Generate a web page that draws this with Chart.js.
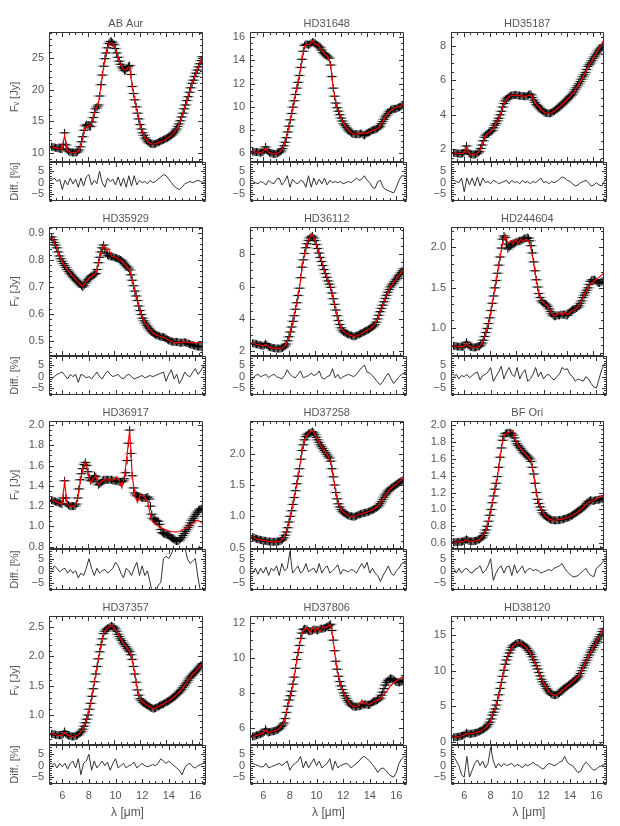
<!DOCTYPE html>
<html><head><meta charset="utf-8">
<script src="https://cdn.jsdelivr.net/npm/chart.js@4.4.1/dist/chart.umd.min.js"></script>
<style>
html,body{margin:0;padding:0;background:#fff;}
#wrap{position:relative;width:620px;height:826px;overflow:hidden;background:#fff;}
canvas{position:absolute;}
</style></head><body><div id="wrap"></div>
<script>
// ---------- DATA ----------
// wavelength grid of the measured spectra (micron)
const WAVE_F = [5.2,5.3,5.4,5.5,5.6,5.7,5.8,5.9,
 6.0,6.1,6.2,6.3,6.4,6.5,6.6,6.7,6.8,6.9,
 7.0,7.1,7.2,7.3,7.4,7.5,7.6,7.7,7.8,7.9,
 8.0,8.1,8.2,8.3,8.4,8.5,8.6,8.7,8.8,8.9,
 9.0,9.1,9.2,9.3,9.4,9.5,9.6,9.7,9.8,9.9,
 10.0,10.1,10.2,10.3,10.4,10.5,10.6,10.7,10.8,10.9,
 11.0,11.1,11.2,11.3,11.4,11.5,11.6,11.7,11.8,11.9,
 12.0,12.1,12.2,12.3,12.4,12.5,12.6,12.7,12.8,12.9,
 13.0,13.1,13.2,13.3,13.4,13.5,13.6,13.7,13.8,13.9,
 14.0,14.1,14.2,14.3,14.4,14.5,14.6,14.7,14.8,14.9,
 15.0,15.1,15.2,15.3,15.4,15.5,15.6,15.7,15.8,15.9,
 16.0,16.1,16.2,16.3,16.4,16.5,16.6,16.7,16.8];
// wavelength grid of the model curves and residuals (micron)
const WAVE = [5.2,5.4,5.6,5.8,6.0,6.2,6.4,6.6,6.8,7.0,7.2,7.4,7.6,7.8,8.0,8.2,8.4,8.6,8.8,9.0,9.2,9.4,9.6,9.8,10.0,10.2,10.4,10.6,10.8,11.0,11.2,11.4,11.6,11.8,12.0,12.2,12.4,12.6,12.8,13.0,13.2,13.4,13.6,13.8,14.0,14.2,14.4,14.6,14.8,15.0,15.2,15.4,15.6,15.8,16.0,16.2,16.4,16.6,16.8];
const X_TICKS = [6,8,10,12,14,16];
const DIFF_TICKS = [-5,0,5];
const NAMES = ['AB Aur','HD31648','HD35187','HD35929','HD36112','HD244604','HD36917','HD37258','BF Ori','HD37357','HD37806','HD38120'];

const FLUX_ABAUR = [11.0,10.95,10.9,10.85,10.8,10.75,10.7,10.65,
 10.6,11.4,13.2,11.3,10.5,10.3,10.2,10.15,10.1,10.1,
 10.1,10.1,10.2,10.5,11.0,11.8,12.6,13.6,14.3,14.5,
 14.4,14.2,14.2,14.9,15.6,16.4,17.0,17.3,17.6,19.0,
 20.8,22.3,23.7,24.9,25.8,26.6,27.3,27.6,27.6,27.4,
 27.1,26.5,25.8,25.1,24.5,24.0,23.6,23.3,23.0,23.1,
 23.4,23.7,23.8,22.4,20.5,19.4,18.4,17.3,16.3,15.4,
 14.5,13.8,13.2,12.8,12.4,12.1,11.8,11.6,11.5,11.45,
 11.4,11.45,11.5,11.6,11.7,11.8,11.9,12.0,12.1,12.2,
 12.3,12.4,12.5,12.65,12.8,13.0,13.2,13.5,13.8,14.2,
 14.6,15.1,15.7,16.3,17.0,17.6,18.3,18.9,19.6,20.3,
 21.0,21.5,22.1,22.6,23.1,23.6,24.1,24.6,25.2];
const MODEL_ABAUR = [11.0,10.9,10.8,10.7,10.6,12.8,10.5,10.2,10.1,10.1,10.2,10.9,12.5,14.1,14.3,14.3,15.5,17.0,17.8,20.7,23.6,25.8,27.2,27.4,27.0,25.9,24.5,23.5,23.1,23.3,23.6,20.6,18.3,16.3,14.6,13.2,12.4,11.8,11.5,11.4,11.5,11.7,11.8,12.0,12.2,12.5,12.8,13.2,13.8,14.6,15.7,17.0,18.3,19.6,21.0,22.1,23.1,24.1,25.2];
const DIFF_ABAUR = [1,2,0.5,1.5,-3,1,-1,2,-0.5,1.5,-2,2,-1.5,2.5,3.5,-1,1,-0.5,5,0,-2,2,0.5,1.5,-1,2.5,-1.5,2,-2,3,-1.5,3,-1,1,0,0.5,-0.5,1,0,0.5,1.5,2.5,3.5,3,1.5,0,-1.5,-2.5,-3,-2,-0.5,0,0.5,0,0.5,1,0.5,0,0.5];

const FLUX_HD31648 = [6.1,6.08,6.05,6.05,6.05,6.02,6.0,6.02,
 6.05,6.2,6.5,6.25,6.1,6.0,5.95,5.92,5.9,5.9,
 5.9,5.95,6.0,6.05,6.15,6.35,6.6,6.9,7.3,7.8,
 8.3,8.85,9.4,9.95,10.5,11.05,11.6,12.1,12.7,13.4,
 14.1,14.8,15.3,15.4,15.4,15.35,15.4,15.5,15.6,15.55,
 15.5,15.4,15.3,15.2,15.1,14.9,14.7,14.6,14.5,14.4,
 14.3,14.2,13.6,12.6,11.6,10.9,10.3,9.9,9.6,9.3,
 9.0,8.75,8.5,8.35,8.2,8.05,7.9,7.8,7.7,7.65,
 7.6,7.6,7.6,7.6,7.6,7.65,7.65,7.55,7.5,7.6,
 7.7,7.75,7.8,7.9,7.95,7.98,8.0,8.05,8.1,8.2,
 8.3,8.5,8.7,8.9,9.1,9.25,9.4,9.55,9.7,9.75,
 9.8,9.8,9.8,9.85,9.9,9.95,10.0,10.1,10.2];
const MODEL_HD31648 = [6.1,6.05,6.05,6.0,6.05,6.4,6.05,5.95,5.9,5.9,6.0,6.15,6.6,7.3,8.3,9.4,10.5,11.6,12.7,14.1,15.3,15.4,15.4,15.7,15.4,15.4,15.1,14.7,14.5,14.3,13.6,11.6,10.3,9.6,9.0,8.5,8.2,7.9,7.7,7.6,7.6,7.65,7.7,7.7,7.7,7.8,7.9,8.0,8.1,8.3,8.7,9.1,9.4,9.6,9.8,9.9,10.0,10.0,10.2];
const DIFF_HD31648 = [0.5,0,-0.5,0.5,0,-1,1,0,-0.5,1.5,2,-1,0.5,3,-2,1.5,0,-0.5,1,0.5,-2,3,-2,2,-1,1.5,-0.5,2,-1,1,0,0.5,0,0.5,-0.5,0,0.5,0,1,2,1,1.5,3,1,0,-2,-2.5,0.5,1,-2,-3,-3.5,-4,-4.5,-2,1,3,3,2.5];

const FLUX_HD35187 = [1.8,1.79,1.78,1.76,1.75,1.75,1.75,1.77,
 1.8,1.95,2.2,1.9,1.75,1.72,1.7,1.7,1.7,1.72,
 1.75,1.8,1.88,2.05,2.25,2.5,2.7,2.82,2.9,2.95,
 3.0,3.05,3.1,3.25,3.4,3.5,3.65,3.8,4.0,4.2,
 4.45,4.65,4.8,4.92,5.0,5.06,5.1,5.12,5.13,5.14,
 5.15,5.13,5.12,5.11,5.1,5.09,5.08,5.07,5.07,5.1,
 5.15,5.2,5.15,5.0,4.85,4.72,4.6,4.52,4.45,4.36,
 4.28,4.21,4.15,4.12,4.1,4.09,4.08,4.1,4.12,4.17,
 4.22,4.28,4.35,4.41,4.47,4.53,4.6,4.67,4.74,4.82,
 4.9,4.97,5.05,5.12,5.2,5.32,5.45,5.56,5.68,5.8,
 5.92,6.06,6.2,6.32,6.45,6.62,6.8,6.9,7.0,7.12,
 7.25,7.36,7.47,7.58,7.7,7.8,7.87,7.96,8.05];
const MODEL_HD35187 = [1.8,1.78,1.75,1.75,1.8,2.1,1.75,1.7,1.7,1.75,1.88,2.25,2.7,2.9,3.0,3.1,3.4,3.65,4.0,4.45,4.8,5.0,5.1,5.13,5.15,5.12,5.1,5.08,5.07,5.12,5.15,4.85,4.6,4.45,4.28,4.15,4.1,4.08,4.12,4.22,4.35,4.47,4.6,4.74,4.9,5.05,5.2,5.43,5.67,5.92,6.18,6.45,6.75,7.0,7.25,7.5,7.75,8.0,8.3];
const DIFF_HD35187 = [1,0.5,0,2,-4,2,-1,2,-1.5,2.5,-1.5,2,0,0.5,-0.5,1,0.5,-0.5,0,0.5,1,-0.5,1,0,0.5,-0.5,1,0,0.5,-0.5,0.5,0,1,2,0,0.5,-0.5,0.5,0,0.5,1.5,2.5,2,1,0.5,-0.5,-1.5,-1,0,0.5,1,0,-1.5,-1,0,-1,-1.5,0.5,2];

const FLUX_HD35929 = [0.885,0.875,0.865,0.855,0.845,0.83,0.815,0.805,
 0.795,0.787,0.78,0.772,0.765,0.758,0.752,0.746,0.74,0.735,
 0.73,0.725,0.72,0.715,0.71,0.705,0.70,0.706,0.715,0.722,
 0.728,0.733,0.738,0.742,0.745,0.747,0.75,0.765,0.79,0.81,
 0.83,0.845,0.855,0.84,0.825,0.818,0.815,0.814,0.813,0.812,
 0.81,0.808,0.807,0.805,0.803,0.8,0.798,0.792,0.785,0.78,
 0.775,0.77,0.763,0.745,0.725,0.705,0.685,0.667,0.65,0.63,
 0.613,0.598,0.585,0.575,0.567,0.559,0.552,0.546,0.54,0.535,
 0.53,0.526,0.523,0.521,0.52,0.518,0.516,0.515,0.515,0.513,
 0.51,0.506,0.503,0.501,0.499,0.498,0.497,0.497,0.497,0.496,
 0.495,0.494,0.494,0.495,0.496,0.495,0.493,0.491,0.489,0.487,
 0.486,0.484,0.483,0.481,0.48,0.48,0.479,0.479,0.479];
const MODEL_HD35929 = [0.885,0.865,0.845,0.815,0.795,0.78,0.765,0.752,0.74,0.73,0.72,0.71,0.703,0.715,0.728,0.738,0.745,0.75,0.79,0.83,0.855,0.835,0.84,0.815,0.812,0.807,0.803,0.798,0.785,0.775,0.763,0.725,0.685,0.65,0.613,0.585,0.567,0.552,0.54,0.53,0.523,0.52,0.516,0.515,0.51,0.503,0.499,0.495,0.493,0.497,0.494,0.497,0.497,0.494,0.495,0.494,0.495,0.495,0.496];
const DIFF_HD35929 = [-1,0,1,1.5,2,0.5,-1,1,0,1,-2.5,1,0.5,-0.5,0,-1,0.5,2,0,-1,1,2.5,1,0,0.5,1,-0.5,-1,0.5,1,0,-1,-0.5,0,0.5,-0.5,0,0.5,0,0.5,1,1.5,2,-2,1,3,-1,1,-3,-1,2,0.5,0,2,3.5,1,2.5,4.5,3];

const FLUX_HD36112 = [2.5,2.48,2.46,2.44,2.42,2.4,2.38,2.36,
 2.33,2.38,2.47,2.38,2.3,2.27,2.24,2.22,2.2,2.19,
 2.18,2.17,2.17,2.17,2.18,2.21,2.26,2.33,2.45,2.65,
 2.9,3.2,3.5,3.85,4.2,4.6,5.0,5.45,5.9,6.55,
 7.2,7.65,8.05,8.4,8.65,8.85,9.0,9.08,9.12,9.0,
 8.85,8.6,8.35,8.07,7.8,7.55,7.3,7.05,6.8,6.57,
 6.35,6.15,5.95,5.6,5.25,4.9,4.55,4.2,3.9,3.65,
 3.45,3.3,3.2,3.15,3.1,3.06,3.03,3.0,2.97,2.94,
 2.92,2.94,2.97,3.01,3.05,3.09,3.13,3.18,3.22,3.26,
 3.3,3.34,3.38,3.44,3.5,3.57,3.65,3.8,4.0,4.22,
 4.45,4.65,4.85,5.06,5.27,5.46,5.65,5.82,5.98,6.1,
 6.2,6.31,6.42,6.53,6.65,6.75,6.85,6.97,7.1];
const MODEL_HD36112 = [2.5,2.46,2.42,2.38,2.33,2.42,2.3,2.24,2.2,2.18,2.17,2.18,2.26,2.45,2.9,3.5,4.2,5.0,5.9,7.2,8.05,8.7,9.05,9.2,8.85,8.35,7.8,7.3,6.8,6.35,5.95,5.25,4.55,3.9,3.45,3.2,3.1,3.03,2.97,2.92,2.95,3.02,3.1,3.2,3.3,3.4,3.52,3.68,4.0,4.45,4.85,5.27,5.65,5.98,6.2,6.42,6.65,6.85,7.1];
const DIFF_HD36112 = [-1,0.5,1,0,0.5,1,-0.5,0.5,1,0,-0.5,-1,0.5,3,1,0,-0.5,1,2.5,-0.5,0,0.5,1.5,0.5,1,2.5,-0.5,-1,0,0.5,3.5,-0.5,1,-1,0,0.5,1,0.5,0,1,2.5,4,5,2,1.5,0.5,-1,-2.5,-3.5,-2,0,1.5,-1,-3,-1.5,0,1,1.5,1.5];

const FLUX_HD244604 = [0.785,0.783,0.78,0.777,0.775,0.775,0.775,0.775,
 0.775,0.8,0.83,0.8,0.78,0.775,0.77,0.767,0.765,0.767,
 0.77,0.775,0.78,0.795,0.82,0.855,0.9,0.95,1.0,1.06,
 1.13,1.22,1.31,1.4,1.5,1.59,1.68,1.78,1.88,1.99,
 2.1,2.14,2.12,2.04,1.98,2.0,2.02,2.04,2.05,2.05,
 2.06,2.07,2.07,2.08,2.08,2.09,2.1,2.11,2.11,2.12,
 2.11,2.08,2.02,1.93,1.82,1.71,1.6,1.51,1.43,1.38,
 1.34,1.32,1.31,1.3,1.29,1.27,1.24,1.21,1.18,1.16,
 1.15,1.15,1.16,1.16,1.16,1.17,1.17,1.17,1.17,1.16,
 1.16,1.18,1.2,1.22,1.23,1.235,1.24,1.25,1.26,1.28,
 1.31,1.34,1.38,1.41,1.44,1.47,1.5,1.54,1.58,1.6,
 1.6,1.6,1.59,1.57,1.56,1.56,1.57,1.58,1.6];
const MODEL_HD244604 = [0.785,0.78,0.775,0.775,0.775,0.82,0.78,0.77,0.765,0.77,0.78,0.82,0.9,1.0,1.13,1.31,1.5,1.68,1.88,2.05,2.15,2.05,2.08,2.04,2.09,2.05,2.1,2.07,2.1,2.08,1.98,1.8,1.6,1.43,1.34,1.31,1.29,1.24,1.18,1.15,1.17,1.19,1.17,1.2,1.17,1.2,1.22,1.24,1.26,1.31,1.38,1.44,1.5,1.55,1.57,1.6,1.62,1.65,1.68];
const DIFF_HD244604 = [0,1,-1,0.5,0,1,-0.5,0.5,1.5,2,-1.5,0.5,1,2,4,-2,0,2,4.5,-1,2,4,1,0,4,-1,1.5,3,-2,-1,1,4,0,2,-1,0.5,1,-0.5,-1.5,0,1,4,3,3.5,1,0,-2,-1,-1.5,-2,0,-1,-3,-4.5,-5,-1,3,5.5,6];

const FLUX_HD36917 = [1.26,1.255,1.25,1.245,1.24,1.235,1.23,1.225,
 1.22,1.28,1.45,1.28,1.22,1.21,1.2,1.2,1.2,1.2,
 1.2,1.22,1.28,1.37,1.46,1.52,1.57,1.61,1.63,1.6,
 1.54,1.48,1.45,1.46,1.47,1.5,1.49,1.44,1.41,1.42,
 1.43,1.45,1.46,1.46,1.46,1.46,1.46,1.46,1.46,1.455,
 1.45,1.45,1.45,1.445,1.44,1.44,1.44,1.45,1.47,1.53,
 1.65,1.82,1.95,1.72,1.5,1.38,1.33,1.31,1.3,1.295,
 1.29,1.285,1.28,1.28,1.28,1.285,1.29,1.27,1.2,1.12,
 1.08,1.07,1.06,1.055,1.05,1.02,0.97,0.94,0.93,0.925,
 0.92,0.918,0.915,0.905,0.89,0.88,0.87,0.86,0.855,0.855,
 0.86,0.875,0.89,0.91,0.93,0.95,0.97,0.99,1.01,1.035,
 1.06,1.08,1.1,1.12,1.14,1.155,1.17,1.175,1.18];
const MODEL_HD36917 = [1.26,1.25,1.24,1.23,1.22,1.44,1.22,1.2,1.2,1.2,1.27,1.44,1.57,1.64,1.52,1.43,1.47,1.5,1.41,1.44,1.46,1.46,1.46,1.46,1.46,1.49,1.45,1.38,1.5,1.7,1.95,1.5,1.3,1.24,1.31,1.3,1.28,1.24,1.1,1.04,1.02,1.0,0.99,0.975,0.965,0.955,0.95,0.945,0.945,0.95,0.96,0.975,0.99,1.005,1.025,1.045,1.06,1.05,1.03];
const DIFF_HD36917 = [0,2,1,-0.5,0.5,1,-1,0.5,-1,0,-3,-1,-2,1,5,1,-2,1,-1,0,0.5,-1,0,1,3.5,2,-1,-3,1,0,-2,1,3.5,-2,2,-2,0,-5,-10,-10,-6,-5,5,6,5,7,10,10,10,10,10,5,3,4,5,-3,-9,-10,-8];

const FLUX_HD37258 = [0.67,0.66,0.65,0.642,0.635,0.63,0.625,0.62,
 0.615,0.612,0.61,0.605,0.6,0.598,0.597,0.596,0.595,0.595,
 0.595,0.597,0.6,0.606,0.615,0.632,0.66,0.7,0.75,0.82,
 0.91,1.0,1.09,1.19,1.3,1.41,1.52,1.64,1.76,1.91,
 2.05,2.14,2.22,2.27,2.3,2.32,2.33,2.34,2.35,2.33,
 2.3,2.26,2.22,2.18,2.14,2.11,2.08,2.05,2.02,1.99,
 1.96,1.93,1.88,1.76,1.63,1.5,1.38,1.28,1.2,1.15,
 1.11,1.08,1.06,1.045,1.03,1.02,1.01,1.005,1.0,0.997,
 0.995,1.0,1.01,1.02,1.03,1.037,1.045,1.05,1.055,1.06,
 1.065,1.072,1.08,1.09,1.1,1.11,1.12,1.135,1.15,1.17,
 1.2,1.235,1.27,1.305,1.34,1.37,1.4,1.42,1.44,1.455,
 1.47,1.485,1.5,1.515,1.53,1.545,1.56,1.575,1.59];
const MODEL_HD37258 = [0.67,0.65,0.635,0.625,0.615,0.61,0.6,0.597,0.595,0.595,0.6,0.615,0.66,0.75,0.9,1.09,1.3,1.52,1.76,2.04,2.22,2.3,2.34,2.37,2.3,2.22,2.14,2.08,2.02,1.96,1.88,1.63,1.38,1.2,1.11,1.06,1.03,1.01,1.0,1.0,1.01,1.03,1.045,1.055,1.07,1.085,1.1,1.13,1.16,1.21,1.27,1.33,1.39,1.44,1.48,1.51,1.54,1.58,1.62];
const DIFF_HD37258 = [-1,1,-1.5,1,-1,1.5,-2,1,0,2,-2,3,0,1,8,-1,0.5,2,-1,0,3,-0.5,0.5,1,-1,3,-1,1,2,-1,0,1,2.5,-1.5,0.5,0,-0.5,0.5,0,-1,1,3,1,3.5,-1,1,-1,-2,-4.5,-2,0,2,-1,-2,0,1,3,3.5,4];

const FLUX_BFORI = [0.61,0.61,0.61,0.612,0.615,0.615,0.615,0.62,
 0.625,0.635,0.645,0.635,0.625,0.622,0.62,0.622,0.625,0.627,
 0.63,0.637,0.645,0.655,0.67,0.69,0.72,0.755,0.8,0.86,
 0.93,1.0,1.08,1.16,1.24,1.31,1.39,1.5,1.62,1.73,
 1.82,1.87,1.9,1.905,1.91,1.91,1.91,1.9,1.88,1.85,
 1.81,1.78,1.76,1.74,1.72,1.7,1.68,1.665,1.65,1.635,
 1.62,1.6,1.57,1.5,1.42,1.31,1.2,1.12,1.07,1.03,
 0.99,0.96,0.94,0.925,0.91,0.897,0.885,0.88,0.875,0.872,
 0.87,0.87,0.87,0.872,0.875,0.877,0.88,0.885,0.89,0.895,
 0.9,0.906,0.912,0.92,0.93,0.942,0.955,0.965,0.975,0.985,
 0.995,1.007,1.02,1.035,1.05,1.07,1.09,1.1,1.11,1.105,
 1.1,1.105,1.11,1.112,1.115,1.117,1.12,1.125,1.13];
const MODEL_BFORI = [0.61,0.61,0.615,0.615,0.625,0.64,0.625,0.62,0.625,0.63,0.645,0.67,0.72,0.8,0.93,1.08,1.24,1.39,1.62,1.82,1.9,1.91,1.92,1.94,1.82,1.76,1.72,1.68,1.65,1.62,1.57,1.42,1.2,1.07,0.99,0.94,0.91,0.885,0.875,0.87,0.875,0.88,0.885,0.89,0.9,0.912,0.93,0.95,0.97,0.995,1.02,1.05,1.08,1.1,1.1,1.12,1.14,1.16,1.17];
const DIFF_BFORI = [1,-1,1,-1,0.5,1,-0.5,-1,0.5,1,2,-1,0,2,5,-4,-1,1,2,-1,1.5,2,-2,2.5,-1,0.5,2,-1,0.5,1,0,0.5,0,-1,-0.5,0,0.5,0,1,1.5,2,3,1,-0.5,-1.5,-2.5,-2.5,-2,-1,0,1,-1,-2,-2.5,1,2,3,4.5,6];

const FLUX_HD37357 = [0.68,0.675,0.67,0.665,0.66,0.657,0.655,0.655,
 0.655,0.68,0.72,0.68,0.66,0.652,0.645,0.64,0.635,0.637,
 0.64,0.647,0.655,0.675,0.7,0.725,0.76,0.81,0.87,0.93,
 1.0,1.1,1.2,1.32,1.45,1.57,1.7,1.83,1.96,2.08,
 2.2,2.3,2.39,2.43,2.46,2.48,2.49,2.51,2.52,2.51,
 2.5,2.47,2.43,2.38,2.34,2.3,2.27,2.23,2.2,2.17,
 2.14,2.11,2.08,2.03,1.95,1.83,1.7,1.56,1.43,1.34,
 1.28,1.25,1.22,1.205,1.19,1.175,1.16,1.145,1.13,1.12,
 1.11,1.112,1.12,1.132,1.145,1.157,1.17,1.18,1.19,1.205,
 1.22,1.23,1.24,1.255,1.27,1.29,1.31,1.33,1.35,1.37,
 1.39,1.415,1.44,1.47,1.5,1.53,1.56,1.595,1.63,1.655,
 1.68,1.705,1.73,1.75,1.77,1.8,1.83,1.855,1.88];
const MODEL_HD37357 = [0.68,0.67,0.66,0.655,0.655,0.7,0.66,0.645,0.635,0.64,0.655,0.7,0.76,0.87,1.0,1.2,1.45,1.7,1.96,2.2,2.39,2.46,2.5,2.53,2.49,2.43,2.34,2.27,2.2,2.14,2.08,1.95,1.7,1.43,1.28,1.22,1.19,1.16,1.13,1.11,1.12,1.145,1.17,1.19,1.22,1.24,1.27,1.31,1.35,1.39,1.44,1.5,1.56,1.63,1.68,1.73,1.77,1.83,1.88];
const DIFF_HD37357 = [0,1,-1,1,-0.5,1,-1.5,1,2,-1,3,-4,1,2,5,-2,2,-1,0.5,2,0,1.5,-2,1,3,-1,0,1,-1,0,0.5,1.5,-1,0,1,0,-0.5,0,0.5,0,1,3,2,1,2,1,0,-1,-2,-4,-1,0.5,1,-0.5,-1,0,0.5,1,2];

const FLUX_HD37806 = [5.53,5.55,5.57,5.6,5.62,5.65,5.67,5.7,
 5.72,5.8,5.95,5.82,5.76,5.78,5.8,5.82,5.83,5.85,
 5.87,5.9,5.95,6.02,6.1,6.18,6.3,6.55,6.9,7.25,
 7.6,7.85,8.1,8.5,8.9,9.4,9.9,10.3,10.7,11.1,
 11.4,11.6,11.65,11.62,11.6,11.52,11.5,11.52,11.55,11.6,
 11.6,11.58,11.55,11.6,11.65,11.65,11.65,11.68,11.7,11.75,
 11.8,11.85,11.9,11.55,11.0,10.4,9.8,9.35,8.95,8.65,
 8.4,8.2,8.0,7.85,7.7,7.58,7.48,7.38,7.3,7.25,
 7.22,7.22,7.23,7.24,7.25,7.27,7.3,7.33,7.35,7.35,
 7.34,7.33,7.32,7.4,7.48,7.52,7.55,7.57,7.6,7.65,
 7.72,7.87,8.05,8.25,8.45,8.6,8.7,8.78,8.83,8.82,
 8.78,8.72,8.65,8.62,8.6,8.6,8.62,8.67,8.72];
const MODEL_HD37806 = [5.53,5.57,5.62,5.67,5.72,5.9,5.76,5.8,5.83,5.87,5.95,6.1,6.3,6.9,7.6,8.1,8.9,9.9,10.7,11.4,11.65,11.7,11.4,11.7,11.5,11.7,11.5,11.75,11.7,11.8,11.85,11.0,9.8,8.95,8.4,8.0,7.7,7.48,7.3,7.22,7.25,7.3,7.6,7.4,7.38,7.35,7.45,7.55,7.6,7.65,7.85,8.0,8.2,8.4,8.55,8.65,8.75,8.85,8.95];
const DIFF_HD37806 = [1,0.5,0,-0.5,-0.5,1,-1,-0.5,0,0.5,1,0,1,2,-2,0,1,2,4,-1,2,-1,1,3,0,2,-1,0,1,3,-2,2,-1,0,0.5,1,0.5,-1,0,1,2,3.5,4,3,2,0.5,-1,-3,-1.5,-1,-2,-3.5,-4.5,-5,-3,1,3,4,3.5];

const FLUX_HD38120 = [0.6,0.62,0.65,0.67,0.7,0.75,0.8,0.85,
 0.9,1.05,1.25,1.15,1.1,1.1,1.12,1.16,1.2,1.24,
 1.28,1.36,1.45,1.52,1.6,1.72,1.85,2.0,2.2,2.45,
 2.75,3.2,3.75,4.15,4.6,5.15,5.8,6.6,7.5,8.35,
 9.2,10.05,10.9,11.5,12.0,12.5,12.9,13.25,13.5,13.65,
 13.75,13.85,13.9,13.9,13.85,13.75,13.65,13.5,13.3,13.1,
 12.85,12.6,12.3,11.95,11.55,11.15,10.7,10.25,9.75,9.25,
 8.8,8.45,8.1,7.8,7.5,7.25,7.0,6.8,6.65,6.58,
 6.55,6.56,6.6,6.7,6.85,7.05,7.27,7.42,7.55,7.68,
 7.8,7.95,8.1,8.22,8.35,8.5,8.65,8.82,9.0,9.25,
 9.6,10.0,10.4,10.75,11.1,11.47,11.85,12.22,12.6,12.92,
 13.25,13.55,13.85,14.15,14.45,14.77,15.1,15.5,15.9];
const MODEL_HD38120 = [0.6,0.65,0.7,0.8,0.9,1.15,1.1,1.12,1.2,1.28,1.45,1.6,1.85,2.2,2.7,3.7,4.6,5.8,7.5,9.2,10.9,12.0,12.9,13.5,13.8,13.9,13.85,13.6,13.3,12.85,12.25,11.55,10.7,9.75,8.85,8.1,7.5,7.0,6.65,6.55,6.6,6.85,7.2,7.5,7.8,8.1,8.4,8.75,9.1,9.6,10.35,11.1,11.85,12.6,13.3,13.9,14.5,15.1,15.9];
const DIFF_HD38120 = [4,2,0,-4,-5,4,-5,-2,1,2.5,0,2,-1,1,8,2,-1,1,-0.5,1,0,0.5,1,-0.5,0.5,0,-1,0.5,0,0.5,1.5,0.5,0,-1,-1.5,0,1,0.5,0,0.5,1.5,2,4,1.5,0.5,0,-1.5,-3,-2.5,0,1.5,0.5,-1,-2,-1.5,-0.5,0,0.5,1];

const YTICKS_ABAUR = [10,15,20,25];
const YTICKS_HD31648 = [6,8,10,12,14,16];
const YTICKS_HD35187 = [2,4,6,8];
const YTICKS_HD35929 = [0.5,0.6,0.7,0.8,0.9];
const YTICKS_HD36112 = [2,4,6,8];
const YTICKS_HD244604 = [1.0,1.5,2.0];
const YTICKS_HD36917 = [0.8,1.0,1.2,1.4,1.6,1.8,2.0];
const YTICKS_HD37258 = [0.5,1.0,1.5,2.0];
const YTICKS_BFORI = [0.6,0.8,1.0,1.2,1.4,1.6,1.8,2.0];
const YTICKS_HD37357 = [1.0,1.5,2.0,2.5];
const YTICKS_HD37806 = [6,8,10,12];
const YTICKS_HD38120 = [0,5,10,15];

// ---------- PANEL SET-UP (built from the arrays above) ----------
const PANELS = [
  {flux:FLUX_ABAUR, model:MODEL_ABAUR, diff:DIFF_ABAUR, yt:YTICKS_ABAUR, min:8.6, max:29.1, minor:1, dec:0},
  {flux:FLUX_HD31648, model:MODEL_HD31648, diff:DIFF_HD31648, yt:YTICKS_HD31648, min:5.19, max:16.47, minor:0.5, dec:0},
  {flux:FLUX_HD35187, model:MODEL_HD35187, diff:DIFF_HD35187, yt:YTICKS_HD35187, min:1.27, max:8.79, minor:0.5, dec:0},
  {flux:FLUX_HD35929, model:MODEL_HD35929, diff:DIFF_HD35929, yt:YTICKS_HD35929, min:0.445, max:0.922, minor:0.02, dec:1},
  {flux:FLUX_HD36112, model:MODEL_HD36112, diff:DIFF_HD36112, yt:YTICKS_HD36112, min:1.71, max:9.68, minor:0.5, dec:0},
  {flux:FLUX_HD244604, model:MODEL_HD244604, diff:DIFF_HD244604, yt:YTICKS_HD244604, min:0.66, max:2.25, minor:0.1, dec:1},
  {flux:FLUX_HD36917, model:MODEL_HD36917, diff:DIFF_HD36917, yt:YTICKS_HD36917, min:0.777, max:2.04, minor:0.05, dec:1},
  {flux:FLUX_HD37258, model:MODEL_HD37258, diff:DIFF_HD37258, yt:YTICKS_HD37258, min:0.48, max:2.52, minor:0.1, dec:1},
  {flux:FLUX_BFORI, model:MODEL_BFORI, diff:DIFF_BFORI, yt:YTICKS_BFORI, min:0.53, max:2.05, minor:0.05, dec:1},
  {flux:FLUX_HD37357, model:MODEL_HD37357, diff:DIFF_HD37357, yt:YTICKS_HD37357, min:0.49, max:2.69, minor:0.1, dec:1},
  {flux:FLUX_HD37806, model:MODEL_HD37806, diff:DIFF_HD37806, yt:YTICKS_HD37806, min:5.05, max:12.37, minor:0.5, dec:0},
  {flux:FLUX_HD38120, model:MODEL_HD38120, diff:DIFF_HD38120, yt:YTICKS_HD38120, min:-0.47, max:17.7, minor:1, dec:0}
];

// ---------- LAYOUT / STYLE ----------
const X_MIN = 5.0, X_MAX = 16.8;
const D_MIN = -8, D_MAX = 9;
const COL_L = [49, 250, 451], COL_R = [206, 407, 607];
const ROW_T = [32, 227, 421, 616], ROW_S = [162, 356, 549, 745], ROW_B = [201, 395, 590, 784];
const YW = 44, RPAD = 4, TOPM = 14, BOTM = 13, XLAB = 36;
const FONT = "'Liberation Sans', 'DejaVu Sans', Arial, sans-serif";
const TXT = '#555555', AXC = '#333333';

const idlFrame = {
  id: 'idlFrame',
  afterDatasetsDraw(chart, args, o) {
    const {ctx, chartArea: a} = chart;
    const xs = chart.scales.x, ys = chart.scales.y;
    const L = Math.round(a.left) + 0.5, R = Math.round(a.right) - 0.5;
    const T = Math.round(a.top) + 0.5, B = Math.round(a.bottom) - 0.5;
    const steps = (s, st) => { const r = []; for (let k = Math.ceil(s.min / st - 1e-6); k * st <= s.max + 1e-9; k++) r.push(k * st); return r; };
    const MAJ = 4.5, MIN = 2.5;
    ctx.save();
    ctx.strokeStyle = AXC; ctx.lineWidth = 1;
    ctx.beginPath();
    ctx.rect(L, T, R - L, B - T);
    const dx = (v, len) => { const p = Math.round(xs.getPixelForValue(v)) + 0.5; ctx.moveTo(p, B); ctx.lineTo(p, B - len); ctx.moveTo(p, T); ctx.lineTo(p, T + len); };
    const dy = (v, len) => { const p = Math.round(ys.getPixelForValue(v)) + 0.5; ctx.moveTo(L, p); ctx.lineTo(L + len, p); ctx.moveTo(R, p); ctx.lineTo(R - len, p); };
    steps(xs, o.xMinor).forEach(v => dx(v, MIN));
    xs.ticks.forEach(t => dx(t.value, MAJ));
    steps(ys, o.yMinor).forEach(v => dy(v, MIN));
    ys.ticks.forEach(t => dy(t.value, MAJ));
    ctx.stroke();
    ctx.restore();
  }
};

function mkCanvas(left, top, w, h) {
  const c = document.createElement('canvas');
  c.width = w; c.height = h;
  c.style.left = left + 'px'; c.style.top = top + 'px';
  c.style.width = w + 'px'; c.style.height = h + 'px';
  document.getElementById('wrap').appendChild(c);
  return c;
}
const pts = (xs, ys) => xs.map((x, i) => ({x: x, y: ys[i]}));
const fmt = (v, d) => { const s = Number(v).toFixed(d); return s.charAt(0) === '-' ? '\u2212' + s.slice(1) : s; };
const tickFont = {family: FONT, size: 11};

PANELS.forEach((p, i) => {
  const col = i % 3, row = Math.floor(i / 3);
  const pw = COL_R[col] - COL_L[col];
  const left = COL_L[col] - YW, cw = YW + pw + RPAD;
  const bottomRow = row === 3;
  const fluxPts = pts(WAVE_F, p.flux);

  // main spectrum panel
  const c1 = mkCanvas(left, ROW_T[row] - TOPM, cw, TOPM + (ROW_S[row] - ROW_T[row]) + BOTM);
  new Chart(c1, {
    type: 'line',
    data: {datasets: [
      {data: pts(WAVE, p.model), borderColor: '#ff0000', borderWidth: 1.2, pointRadius: 0, tension: 0, fill: false},
      {data: fluxPts, showLine: false, pointStyle: 'cross', pointRadius: 4, borderColor: '#000000', backgroundColor: '#000000', borderWidth: 1},
      {data: fluxPts, showLine: false, pointStyle: 'line', pointRadius: 6, borderColor: '#a8a8a8', backgroundColor: '#a8a8a8', borderWidth: 1.5}
    ]},
    options: {
      responsive: false, animation: false, events: [], devicePixelRatio: 1,
      layout: {padding: {left: 0, right: RPAD, top: 0, bottom: 0}},
      plugins: {
        legend: {display: false}, tooltip: {enabled: false},
        title: {display: true, text: NAMES[i], fullSize: false, color: TXT, font: {family: FONT, size: 11, lineHeight: 1, weight: 'normal'}, padding: {top: 0, bottom: 3}},
        idlFrame: {xMinor: 0.5, yMinor: p.minor}
      },
      scales: {
        x: {type: 'linear', min: X_MIN, max: X_MAX, bounds: 'data', grid: {display: false, drawTicks: false}, border: {display: false},
            ticks: {display: false}, afterBuildTicks: s => { s.ticks = X_TICKS.map(v => ({value: v})); }, afterFit: s => { s.height = BOTM; }},
        y: {type: 'linear', min: p.min, max: p.max, bounds: 'data', grid: {display: false, drawTicks: false}, border: {display: false},
            ticks: {color: TXT, font: tickFont, padding: 5, callback: v => fmt(v, p.dec)},
            afterBuildTicks: s => { s.ticks = p.yt.map(v => ({value: v})); }, afterFit: s => { s.width = YW; },
            title: {display: col === 0, text: 'F\u1D65 [Jy]', color: TXT, font: {family: FONT, size: 11}, padding: {top: 3, bottom: 0}}}
      }
    },
    plugins: [idlFrame]
  });

  // residual panel
  const c2 = mkCanvas(left, ROW_S[row] - 13, cw, 13 + (ROW_B[row] - ROW_S[row]) + (bottomRow ? XLAB : BOTM));
  new Chart(c2, {
    type: 'line',
    data: {datasets: [
      {data: pts(WAVE, p.diff), borderColor: '#333333', borderWidth: 1, pointRadius: 0, tension: 0, fill: false}
    ]},
    options: {
      responsive: false, animation: false, events: [], devicePixelRatio: 1,
      layout: {padding: {left: 0, right: RPAD, top: 13, bottom: 0}},
      plugins: {legend: {display: false}, tooltip: {enabled: false}, idlFrame: {xMinor: 0.5, yMinor: 1}},
      scales: {
        x: {type: 'linear', min: X_MIN, max: X_MAX, bounds: 'data', grid: {display: false, drawTicks: false}, border: {display: false},
            ticks: {display: bottomRow, color: TXT, font: tickFont, padding: 5, maxRotation: 0, callback: v => fmt(v, 0)},
            afterBuildTicks: s => { s.ticks = X_TICKS.map(v => ({value: v})); }, afterFit: s => { s.height = bottomRow ? XLAB : BOTM; },
            title: {display: bottomRow, text: '\u03BB [\u03BCm]', color: TXT, font: {family: FONT, size: 12}, padding: {top: 0, bottom: 0}}},
        y: {type: 'linear', min: D_MIN, max: D_MAX, bounds: 'data', grid: {display: false, drawTicks: false}, border: {display: false},
            ticks: {color: TXT, font: tickFont, padding: 5, callback: v => fmt(v, 0)},
            afterBuildTicks: s => { s.ticks = DIFF_TICKS.map(v => ({value: v})); }, afterFit: s => { s.width = YW; },
            title: {display: col === 0, text: 'Diff. [%]', color: TXT, font: {family: FONT, size: 11}, padding: {top: 3, bottom: 0}}}
      }
    },
    plugins: [idlFrame]
  });
});
</script></body></html>
